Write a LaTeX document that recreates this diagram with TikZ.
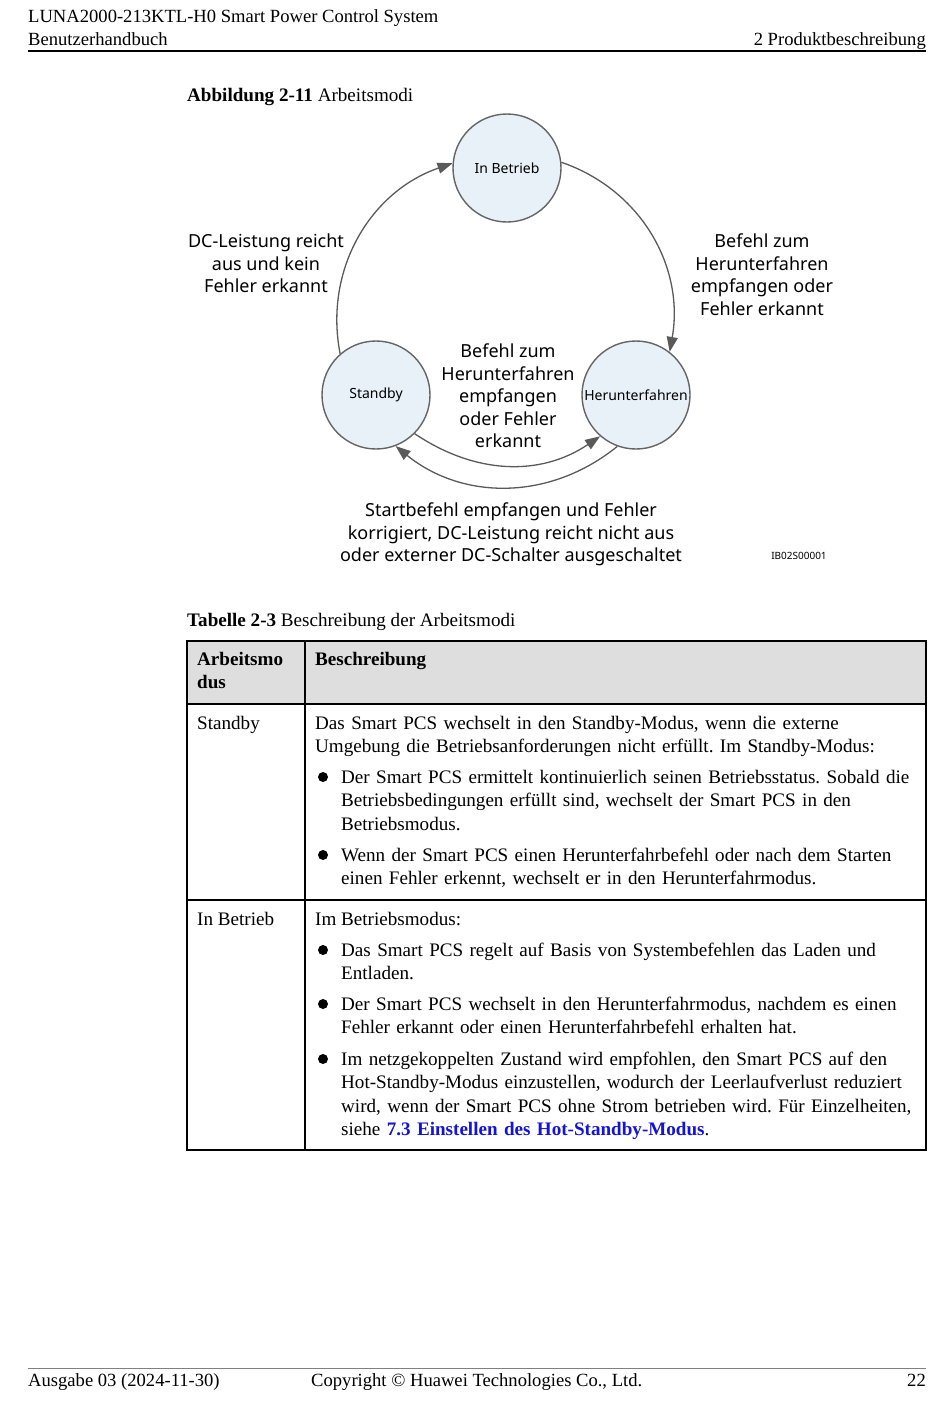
\documentclass[tikz,border=0pt]{standalone}
\usepackage{fontspec}
\setmainfont{Liberation Serif}
\newfontfamily\diagfont{Noto Sans}
\usetikzlibrary{arrows.meta}
\definecolor{circfill}{RGB}{233,241,248}
\definecolor{circgray}{RGB}{100,100,100}
\definecolor{arrgray}{RGB}{90,90,90}
\definecolor{kopfgrau}{RGB}{222,222,222}
\definecolor{linkblau}{RGB}{20,20,215}
\frenchspacing
\begin{document}
\begin{tikzpicture}[x=1pt,y=1pt,
  modus/.style={circle, draw=circgray, fill=circfill, line width=1.4pt, minimum size=108pt, inner sep=0pt, font=\diagfont\fontsize{14}{16}\selectfont},
  pfeil/.style={draw=arrgray, line width=1.3pt, -{Triangle[length=15pt,width=11pt]}},
  marke/.style={font=\diagfont\fontsize{18}{22.5}\selectfont, align=center, inner sep=0pt},
  zeile/.style={anchor=base west, inner sep=0pt, font=\fontsize{19.1}{23.5}\selectfont},
  absatz/.style={zeile, text width=640pt, align=left},
  kopf/.style={anchor=base west, inner sep=0pt, font=\fontsize{18.6}{23}\selectfont},
  tabline/.style={line width=1.3pt, black},
]
\fill[white] (0,0) rectangle (950,-1408);
\useasboundingbox (0,0) rectangle (950,-1408);

% Kopfzeile
\node[kopf] (titel) at (28,-22) {LUNA2000-213KTL-H0 Smart Power Control System};
\node[kopf] (handbuch) at (28,-45) {Benutzerhandbuch};
\node[kopf, anchor=base east] (kapitel) at (926,-45) {2 Produktbeschreibung};
\draw[line width=1.2pt] (28,-51) -- (926,-51);

\node[zeile] (abb) at (187,-101) {\textbf{Abbildung 2-11} Arbeitsmodi};

% Zustaende
\node[modus] (betrieb) at (507,-168) {In Betrieb};
\node[modus] (standby) at (376,-395) {Standby};
\node[modus] (herunter) at (636,-395) {Herunterfahren};

\draw[pfeil] (standby.131) to[out=101,in=199] (betrieb.175);
\draw[pfeil] (betrieb.6) to[out=-19,in=80] (herunter.52);
\draw[pfeil] (standby.-45) to[out=-34,in=-146] (herunter.229);
\draw[pfeil] (herunter.250) to[out=-141,in=-39] (standby.291);

\node[marke] (links) at (266,-263.5) {DC-Leistung reicht\\aus und kein\\Fehler erkannt};
\node[marke] (rechts) at (762,-274.5) {Befehl zum\\Herunterfahren\\empfangen oder\\Fehler erkannt};
\node[marke] (mitte) at (508,-396) {Befehl zum\\Herunterfahren\\empfangen\\oder Fehler\\erkannt};
\node[marke] (unten) at (511,-534.5) {Startbefehl empfangen und Fehler\\korrigiert, DC-Leistung reicht nicht aus\\oder externer DC-Schalter ausgeschaltet};
\node[font=\diagfont\fontsize{10}{12}\selectfont, inner sep=0pt] (bildnr) at (799,-556) {IB02S00001};

% Tabelle
\node[zeile] (tab) at (187,-626) {\textbf{Tabelle 2-3} Beschreibung der Arbeitsmodi};
\fill[kopfgrau] (187,-641) rectangle (926,-704);
\draw[tabline] (187,-641) rectangle (926,-1150);
\draw[tabline] (187,-704) -- (926,-704);
\draw[tabline] (187,-900) -- (926,-900);
\draw[tabline] (305,-641) -- (305,-1150);

\node[absatz, text width=100pt] (spalte1) at (197,-665) {\textbf{Arbeitsmo}\\\textbf{dus}};
\node[zeile] (spalte2) at (315,-665) {\textbf{Beschreibung}};

\node[zeile] (standbyname) at (197,-729) {Standby};
\node[absatz] (standbytext) at (315,-729) {Das Smart PCS wechselt in den Standby-Modus, wenn die externe\\Umgebung die Betriebsanforderungen nicht erfüllt. Im Standby-Modus:};
\node[absatz] (punkt1) at (341,-783) {Der Smart PCS ermittelt kontinuierlich seinen Betriebsstatus. Sobald die\\Betriebsbedingungen erfüllt sind, wechselt der Smart PCS in den\\Betriebsmodus.};
\node[absatz] (punkt2) at (341,-861) {Wenn der Smart PCS einen Herunterfahrbefehl oder nach dem Starten\\einen Fehler erkennt, wechselt er in den Herunterfahrmodus.};

\node[zeile] (betriebname) at (197,-925) {In Betrieb};
\node[zeile] (betriebtext) at (315,-925) {Im Betriebsmodus:};
\node[absatz] (punkt3) at (341,-956) {Das Smart PCS regelt auf Basis von Systembefehlen das Laden und\\Entladen.};
\node[absatz] (punkt4) at (341,-1010) {Der Smart PCS wechselt in den Herunterfahrmodus, nachdem es einen\\Fehler erkannt oder einen Herunterfahrbefehl erhalten hat.};
\node[absatz] (punkt5) at (341,-1065) {Im netzgekoppelten Zustand wird empfohlen, den Smart PCS auf den\\Hot-Standby-Modus einzustellen, wodurch der Leerlaufverlust reduziert\\wird, wenn der Smart PCS ohne Strom betrieben wird. Für Einzelheiten,\\siehe \textcolor{linkblau}{\textbf{7.3 Einstellen des Hot-Standby-Modus}}.};

\foreach \y in {777,855,950,1004,1059}
  \fill (323,-\y) circle (5);

% Fusszeile
\draw[line width=0.8pt, gray] (28,-1368) -- (926,-1368);
\node[kopf] (ausgabe) at (28,-1386) {Ausgabe 03 (2024-11-30)};
\node[kopf] (copy) at (311,-1386) {Copyright © Huawei Technologies Co., Ltd.};
\node[kopf, anchor=base east] (seite) at (926,-1386) {22};
\end{tikzpicture}
\end{document}
